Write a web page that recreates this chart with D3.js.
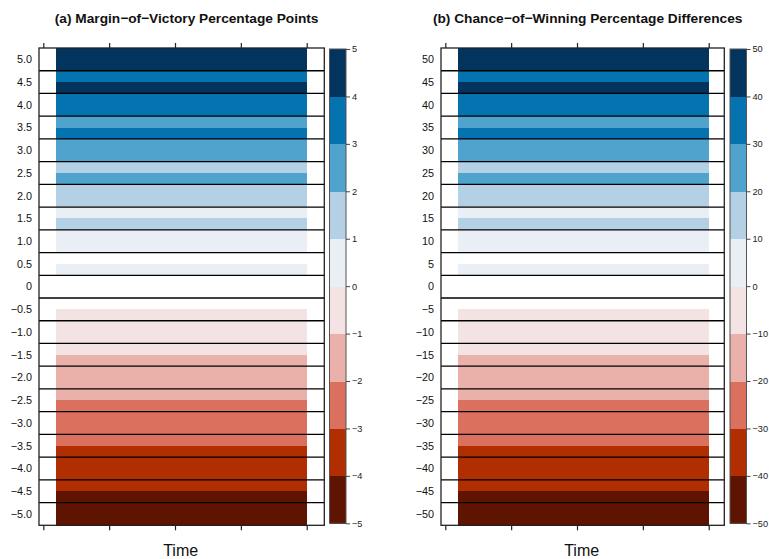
<!DOCTYPE html>
<html>
<head>
<meta charset="utf-8">
<script src="https://cdn.jsdelivr.net/npm/d3@7"></script>
<style>
  html, body { margin: 0; padding: 0; background: #fff; }
  svg { display: block; font-family: "Liberation Sans", Arial, Helvetica, sans-serif; }
</style>
</head>
<body>
<svg id="chart" width="769" height="559"></svg>
<script>
// Row labels (one strip per level) and the value filling the upper / lower half of each strip
const marginRows = ["5.0","4.5","4.0","3.5","3.0","2.5","2.0","1.5","1.0","0.5","0",
                    "-0.5","-1.0","-1.5","-2.0","-2.5","-3.0","-3.5","-4.0","-4.5","-5.0"];
const marginUpper = [4.5, 3.5, 3.5, 2.5, 2.5, 1.5, 1.5, 0.5, 0.5, null, null,
                     null, -0.5, -0.5, -1.5, -1.5, -2.5, -2.5, -3.5, -3.5, -4.5];
const marginLower = [4.5, 4.5, 3.5, 3.5, 2.5, 2.5, 1.5, 1.5, 0.5, 0.5, null,
                     -0.5, -0.5, -1.5, -1.5, -2.5, -2.5, -3.5, -3.5, -4.5, -4.5];

const chanceRows = ["50","45","40","35","30","25","20","15","10","5","0",
                    "-5","-10","-15","-20","-25","-30","-35","-40","-45","-50"];
const chanceUpper = [45, 35, 35, 25, 25, 15, 15, 5, 5, null, null,
                     null, -5, -5, -15, -15, -25, -25, -35, -35, -45];
const chanceLower = [45, 45, 35, 35, 25, 25, 15, 15, 5, 5, null,
                     -5, -5, -15, -15, -25, -25, -35, -35, -45, -45];

// Colour key breaks and the ten diverging fills between them
const marginBreaks = [-5, -4, -3, -2, -1, 0, 1, 2, 3, 4, 5];
const chanceBreaks = [-50, -40, -30, -20, -10, 0, 10, 20, 30, 40, 50];
const fills = ["#5e1400", "#b12e00", "#db705e", "#e9b1aa", "#f3e4e3",
               "#e9eff4", "#b4d0e4", "#50a3cc", "#0573b0", "#02345d"];

// Time axis: unlabelled ticks and the span covered by the shaded cells
const timeTicks = [0, 1, 2, 3, 4];
const timeSpan = [0.2, 4];

const panels = [
  { title: "(a) Margin\u2212of\u2212Victory Percentage Points",
    rows: marginRows, upper: marginUpper, lower: marginLower, breaks: marginBreaks,
    left: 39, right: 324.3, keyLeft: 329.5 },
  { title: "(b) Chance\u2212of\u2212Winning Percentage Differences",
    rows: chanceRows, upper: chanceUpper, lower: chanceLower, breaks: chanceBreaks,
    left: 441, right: 724.3, keyLeft: 730 }
];

const plotTop = 48, plotBottom = 525.3;
const keyWidth = 16.5;
const svg = d3.select("#chart");
const minus = s => String(s).replace("-", "\u2212");

panels.forEach(p => {
  const g = svg.append("g");
  const tickStep = 65.85;
  const x = d3.scaleLinear()
    .domain([0, 4])
    .range([p.left + 4.3, p.left + 4.3 + 4 * tickStep]);
  const y = d3.scaleBand().domain(p.rows).range([plotTop, plotBottom]).padding(0);
  const color = d3.scaleThreshold().domain(p.breaks.slice(1, -1)).range(fills);
  const bw = y.bandwidth();

  // shaded half-strips
  const cells = [];
  p.rows.forEach((r, i) => {
    if (p.upper[i] !== null) cells.push({ row: r, half: 0, v: p.upper[i] });
    if (p.lower[i] !== null) cells.push({ row: r, half: 1, v: p.lower[i] });
  });
  g.selectAll("rect.cell").data(cells).join("rect")
    .attr("class", "cell")
    .attr("x", x(timeSpan[0]))
    .attr("width", x(timeSpan[1]) - x(timeSpan[0]))
    .attr("y", d => y(d.row) + d.half * bw / 2)
    .attr("height", bw / 2 + 0.5)
    .attr("shape-rendering", "crispEdges")
    .attr("fill", d => color(d.v));

  // strip separators
  g.selectAll("line.sep").data(p.rows.slice(1)).join("line")
    .attr("class", "sep")
    .attr("x1", p.left).attr("x2", p.right)
    .attr("y1", d => y(d)).attr("y2", d => y(d))
    .attr("stroke", "#000").attr("stroke-width", 1.3);

  // panel frame
  g.append("rect")
    .attr("x", p.left).attr("y", plotTop)
    .attr("width", p.right - p.left).attr("height", plotBottom - plotTop)
    .attr("fill", "none").attr("stroke", "#222").attr("stroke-width", 1.3);

  // row labels
  g.selectAll("text.rowlab").data(p.rows).join("text")
    .attr("class", "rowlab")
    .attr("x", p.left - 7)
    .attr("y", d => y(d) + bw / 2)
    .attr("dy", "0.35em")
    .attr("text-anchor", "end")
    .attr("font-size", 10.8)
    .attr("fill", "#111")
    .text(d => minus(d));

  // time ticks, top and bottom
  const axTop = d3.axisTop(x).tickValues(timeTicks).tickFormat("").tickSizeOuter(0).tickSizeInner(5);
  const axBot = d3.axisBottom(x).tickValues(timeTicks).tickFormat("").tickSizeOuter(0).tickSizeInner(5);
  [g.append("g").attr("transform", `translate(0,${plotTop})`).call(axTop),
   g.append("g").attr("transform", `translate(0,${plotBottom})`).call(axBot)]
    .forEach(a => {
      a.select(".domain").remove();
      a.selectAll("line").attr("stroke", "#222").attr("stroke-width", 1.2);
    });

  g.append("text")
    .attr("x", (p.left + p.right) / 2 - 1)
    .attr("y", 556)
    .attr("text-anchor", "middle")
    .attr("font-size", 16)
    .attr("fill", "#111")
    .text("Time");

  g.append("text")
    .attr("x", (p.left + p.right) / 2 + 5)
    .attr("y", 22.5)
    .attr("text-anchor", "middle")
    .attr("font-size", 13.7)
    .attr("font-weight", "bold")
    .attr("fill", "#111")
    .text(p.title);

  // colour key
  const ky = d3.scaleLinear()
    .domain([p.breaks[0], p.breaks[p.breaks.length - 1]])
    .range([plotBottom - 2, plotTop + 1]);
  const bins = d3.pairs(p.breaks);
  g.selectAll("rect.key").data(bins).join("rect")
    .attr("class", "key")
    .attr("x", p.keyLeft).attr("width", keyWidth)
    .attr("y", d => ky(d[1]))
    .attr("height", d => ky(d[0]) - ky(d[1]) + 0.5)
    .attr("shape-rendering", "crispEdges")
    .attr("fill", d => color((d[0] + d[1]) / 2));
  g.append("rect")
    .attr("x", p.keyLeft).attr("y", ky(p.breaks[p.breaks.length - 1]))
    .attr("width", keyWidth)
    .attr("height", ky(p.breaks[0]) - ky(p.breaks[p.breaks.length - 1]))
    .attr("fill", "none").attr("stroke", "#555").attr("stroke-width", 1);

  const keyAxis = d3.axisRight(ky).tickValues(p.breaks).tickSize(4).tickPadding(2)
    .tickFormat(d => minus(d));
  const ka = g.append("g")
    .attr("transform", `translate(${p.keyLeft + keyWidth},0)`)
    .call(keyAxis);
  ka.select(".domain").remove();
  ka.selectAll("line").attr("stroke", "#444");
  ka.selectAll("text").attr("font-size", 9.2).attr("fill", "#222")
    .attr("font-family", "Liberation Sans, Arial, sans-serif");
});
</script>
</body>
</html>
